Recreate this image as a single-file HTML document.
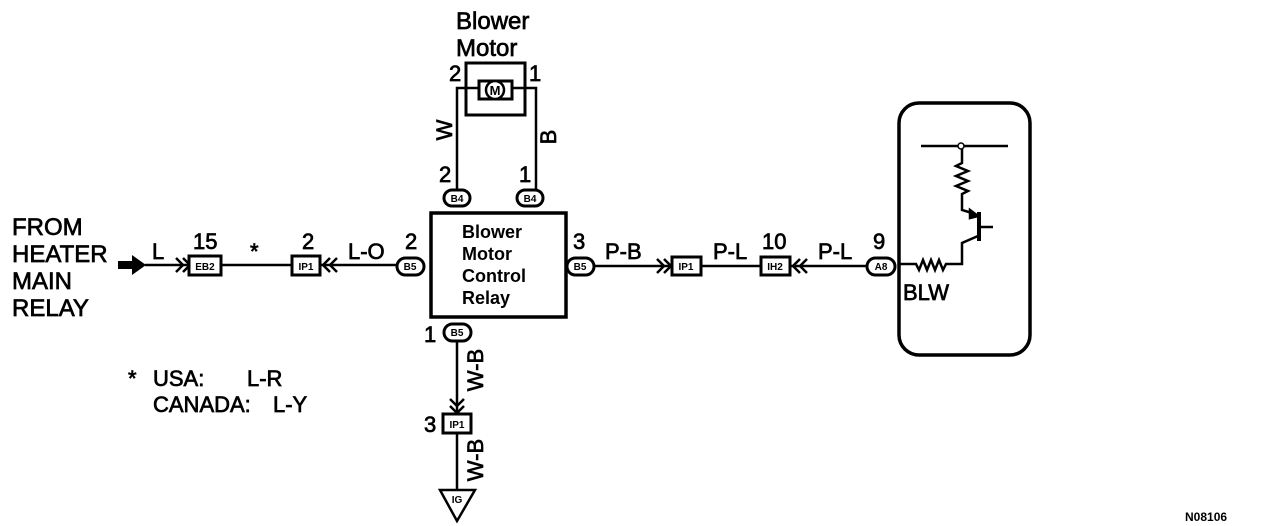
<!DOCTYPE html>
<html><head><meta charset="utf-8"><style>
html,body{margin:0;padding:0;background:#fff;}
svg{display:block;}
text{font-family:"Liberation Sans",Arial,sans-serif;fill:#000;}
.t{stroke:#000;stroke-width:0.7;}
</style></head><body>
<svg width="1264" height="526" viewBox="0 0 1264 526" xmlns="http://www.w3.org/2000/svg">
<g stroke="#000" fill="none" stroke-width="2.5">
<rect x="466" y="63" width="59" height="52" stroke-width="3"/>
<rect x="479" y="81" width="33" height="18" stroke-width="3"/>
<polyline points="479,88 457,88 457,190"/>
<polyline points="512,88 536,88 536,190"/>
<rect x="431" y="213" width="135" height="104" stroke-width="3.5"/>
<rect x="444" y="190" width="26" height="16" rx="8" fill="#fff" stroke-width="3"/>
<rect x="517" y="190" width="26" height="16" rx="8" fill="#fff" stroke-width="3"/>
<line x1="145" y1="265" x2="190" y2="265"/>
<polyline points="176,258 183,265 176,272"/>
<polyline points="183,258 190,265 183,272"/>
<line x1="222" y1="265" x2="292" y2="265"/>
<line x1="320" y1="265" x2="397" y2="265"/>
<polyline points="330,258 323,265 330,272"/>
<polyline points="337,258 330,265 337,272"/>
<rect x="189" y="256" width="32" height="19" stroke-width="3" fill="#fff"/>
<rect x="292" y="256" width="28" height="19" stroke-width="3" fill="#fff"/>
<rect x="397" y="258" width="27" height="17" rx="8.5" fill="#fff" stroke-width="3"/>
<line x1="594" y1="266" x2="672" y2="266"/>
<polyline points="657,259 664,266 657,273"/>
<polyline points="664,259 671,266 664,273"/>
<line x1="701" y1="266" x2="760" y2="266"/>
<line x1="790" y1="266" x2="868" y2="266"/>
<polyline points="800,259 793,266 800,273"/>
<polyline points="807,259 800,266 807,273"/>
<rect x="567" y="258" width="27" height="17" rx="8.5" fill="#fff" stroke-width="3"/>
<rect x="672" y="257" width="29" height="18" stroke-width="3" fill="#fff"/>
<rect x="761" y="257" width="29" height="18" stroke-width="3" fill="#fff"/>
<rect x="867" y="258" width="28" height="17" rx="8.5" fill="#fff" stroke-width="3"/>
<rect x="899" y="103" width="131" height="252" rx="20" stroke-width="3.5"/>
<line x1="921" y1="146" x2="1008" y2="146"/>
<circle cx="961" cy="146" r="3" fill="#fff" stroke-width="1.5"/>
<polyline points="962,149 962,163 956,166 968,171 956,176 968,181 956,186 968,191 962,194 962,210 972,213"/>
<polygon points="970,210 978,216 970,218" fill="#000"/>
<line x1="979" y1="212" x2="979" y2="241" stroke-width="4"/>
<line x1="979" y1="227" x2="993" y2="227"/>
<polyline points="978,236 962,243 962,264 946,264 943,270 939,260 935,270 931,260 927,270 923,260 919,270 916,264 900,264"/>
<rect x="444" y="324" width="27" height="17" rx="8.5" fill="#fff" stroke-width="3"/>
<line x1="457" y1="341" x2="457" y2="414"/>
<polyline points="450,399 457,406 464,399"/>
<polyline points="450,406 457,413 464,406"/>
<rect x="443" y="414" width="28" height="19" stroke-width="3" fill="#fff"/>
<line x1="457" y1="433" x2="457" y2="490"/>
<polygon points="440,490 475,490 457,521" fill="#fff"/>
<circle cx="495" cy="90" r="9" fill="#fff" stroke-width="2.5"/>
</g>
<polygon points="118,261 132,261 132,255 146,265 132,275 132,269 118,269" fill="#000"/>
<g font-size="24" class="t">
<text x="456" y="29">Blower</text>
<text x="456" y="56">Motor</text>
<text x="12" y="235">FROM</text>
<text x="12" y="262">HEATER</text>
<text x="12" y="289">MAIN</text>
<text x="12" y="316">RELAY</text>
</g>
<g font-size="22" class="t">
<text x="152" y="259">L</text>
<text x="193" y="249">15</text>
<text x="302" y="249">2</text>
<text x="348" y="259">L-O</text>
<text x="405" y="249">2</text>
<text x="573" y="249">3</text>
<text x="605" y="259">P-B</text>
<text x="713" y="259">P-L</text>
<text x="762" y="249">10</text>
<text x="818" y="259">P-L</text>
<text x="873" y="249">9</text>
<text x="903" y="300">BLW</text>
<text x="449" y="81">2</text>
<text x="529" y="81">1</text>
<text x="439" y="182">2</text>
<text x="519" y="182">1</text>
<text x="424" y="342">1</text>
<text x="424" y="432">3</text>
<text x="250" y="259">*</text>
<text x="128" y="386">*</text>
<text x="153" y="386">USA:</text>
<text x="247" y="386">L-R</text>
<text x="153" y="412">CANADA:</text>
<text x="273" y="412">L-Y</text>
<text transform="translate(452,130) rotate(-90)" text-anchor="middle">W</text>
<text transform="translate(556,137) rotate(-90)" text-anchor="middle">B</text>
<text transform="translate(483,370) rotate(-90)" text-anchor="middle">W-B</text>
<text transform="translate(483,460) rotate(-90)" text-anchor="middle">W-B</text>
</g>
<g font-size="18" font-weight="bold">
<text x="462" y="238">Blower</text>
<text x="462" y="260">Motor</text>
<text x="462" y="282">Control</text>
<text x="462" y="304">Relay</text>
</g>
<g font-size="10" font-weight="bold" text-anchor="middle">
<text x="457" y="202">B4</text>
<text x="530" y="202">B4</text>
<text x="205" y="270">EB2</text>
<text x="306" y="270">IP1</text>
<text x="410" y="270">B5</text>
<text x="580" y="270">B5</text>
<text x="686" y="270">IP1</text>
<text x="775" y="270">IH2</text>
<text x="881" y="270">A8</text>
<text x="457" y="336">B5</text>
<text x="457" y="428">IP1</text>
<text x="457" y="503">IG</text>
<text x="495" y="95" font-size="13">M</text>
</g>
<text x="1185" y="521" font-size="12" font-weight="bold">N08106</text>
</svg>
</body></html>
